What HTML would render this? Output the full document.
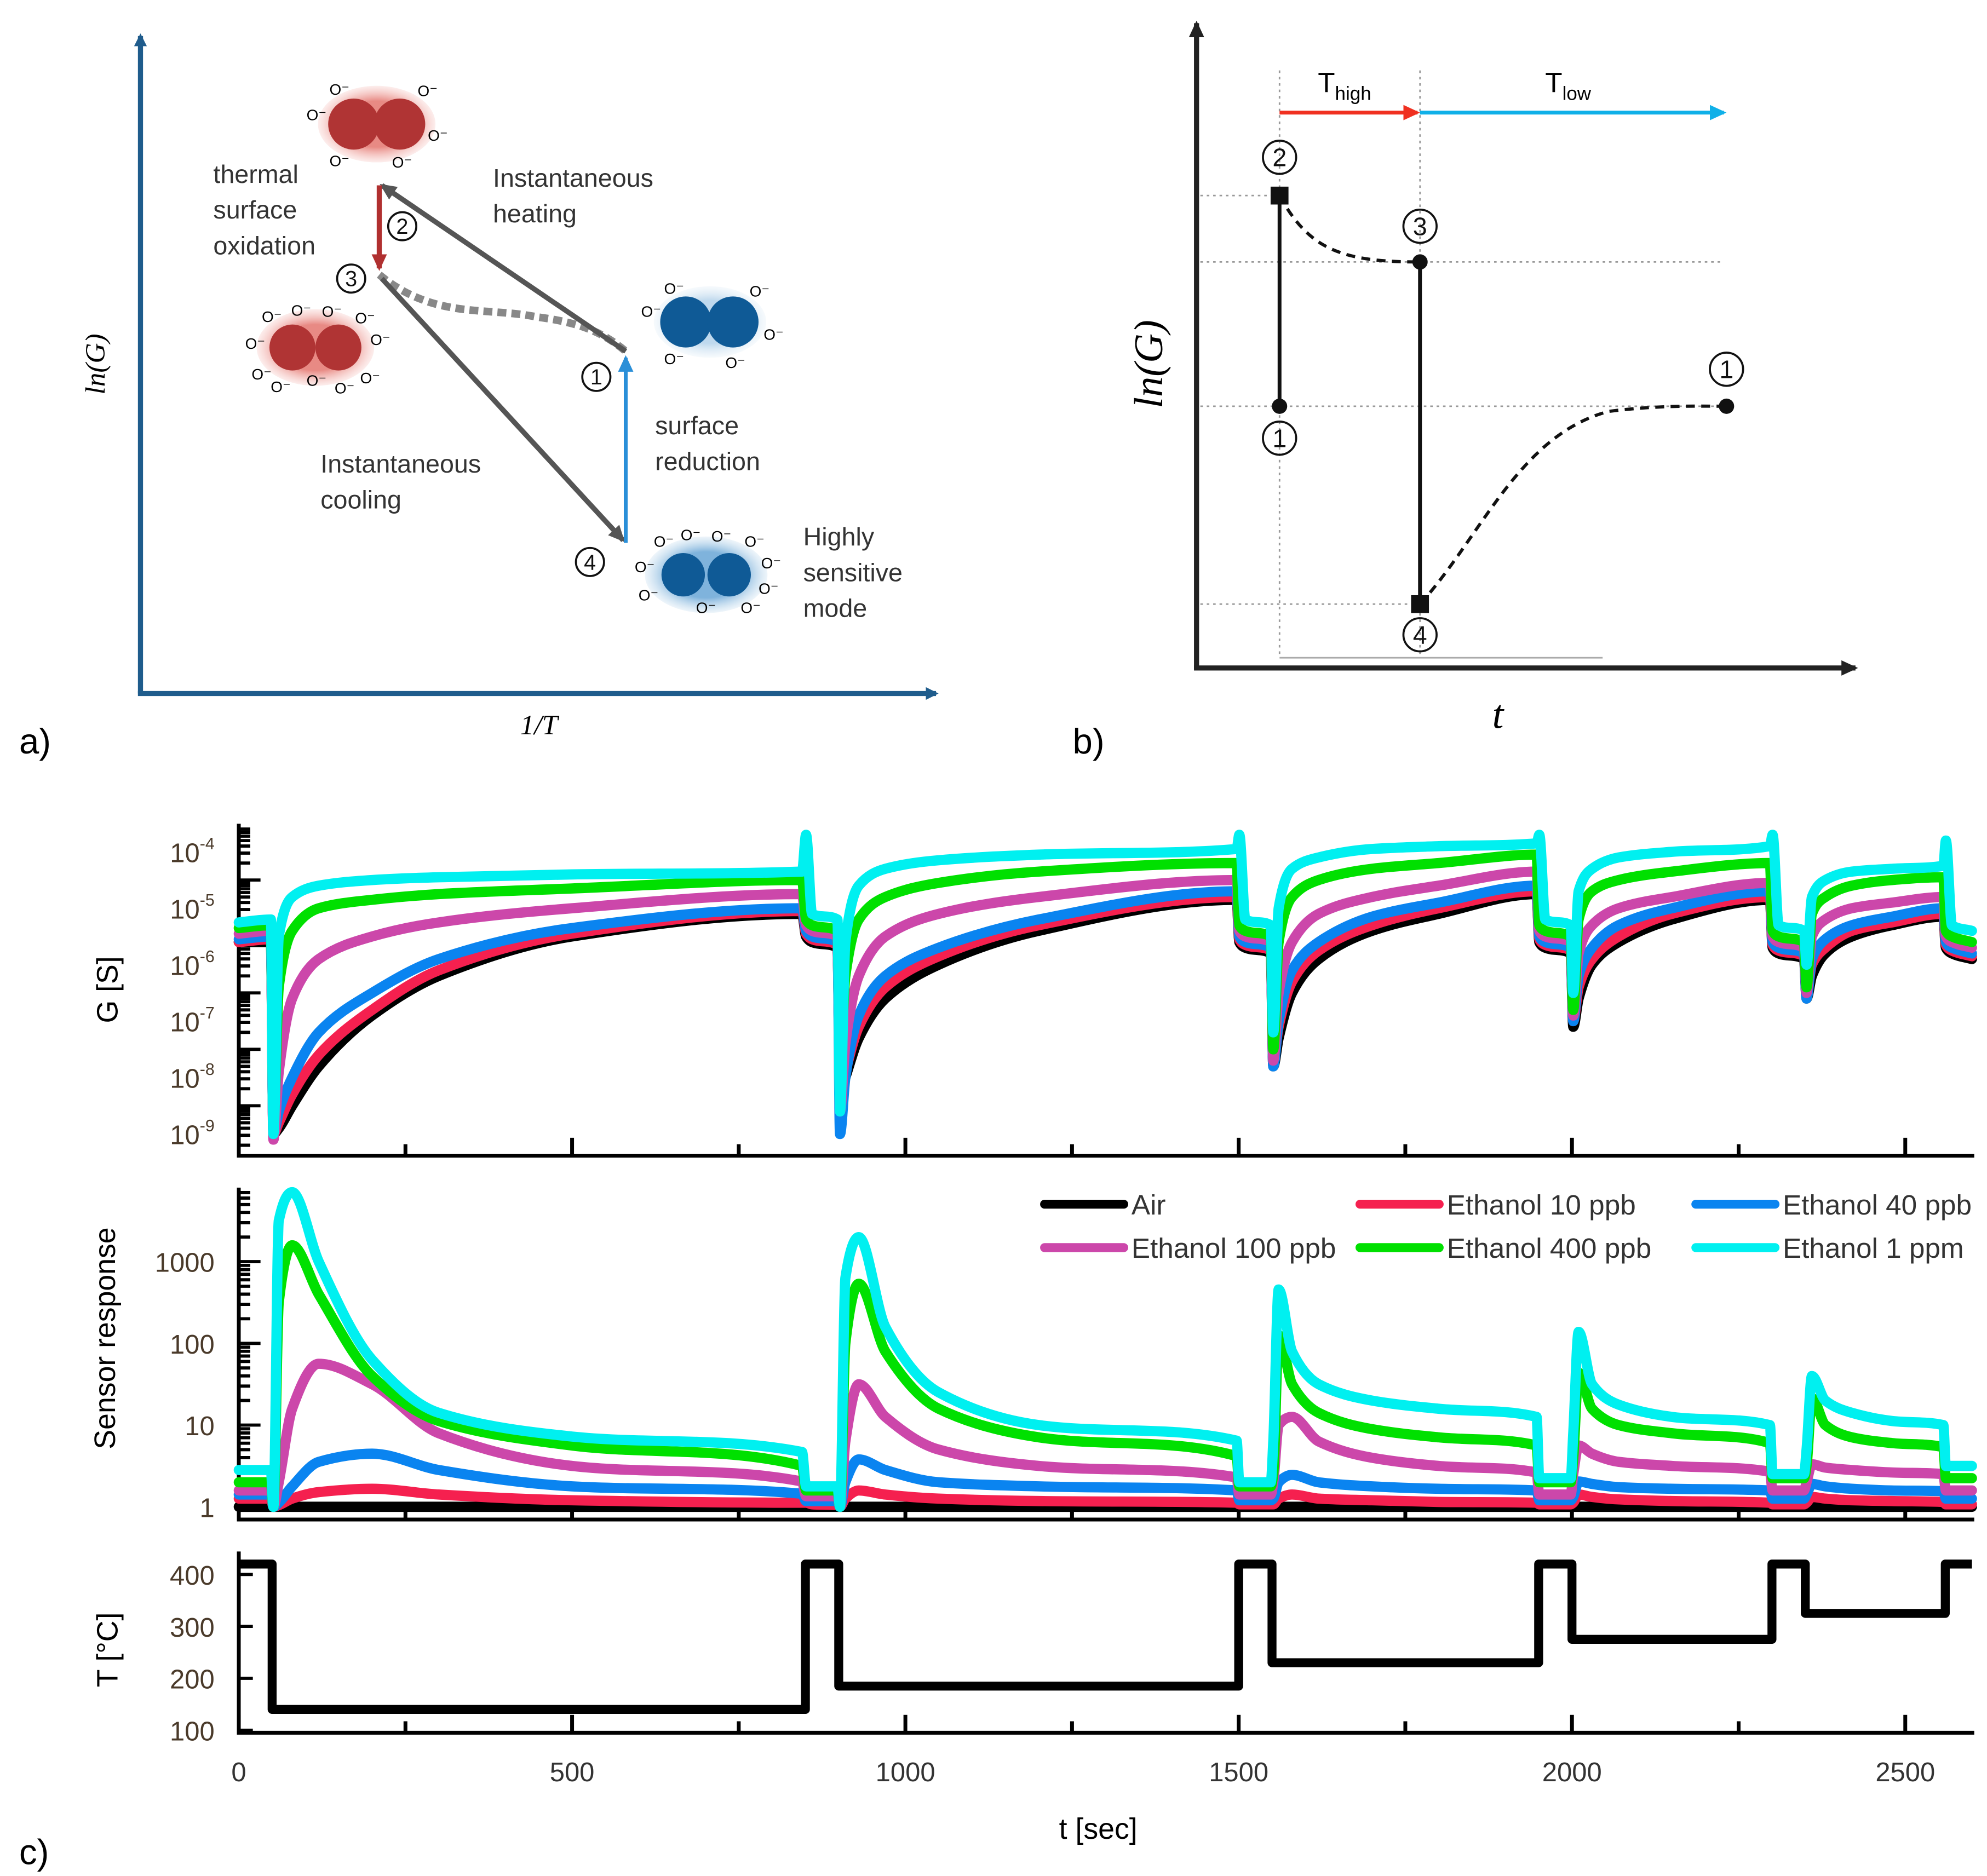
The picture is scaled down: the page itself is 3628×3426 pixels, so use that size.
<!DOCTYPE html>
<html><head><meta charset="utf-8"><style>
html,body{margin:0;padding:0;background:#fff}
svg{display:block}
text{font-family:"Liberation Sans",sans-serif}
.serif{font-family:"Liberation Serif",serif;font-style:italic}
</style></head><body>
<svg id="fig" xmlns="http://www.w3.org/2000/svg" width="3628" height="3426" viewBox="0 0 1556 1469">
<defs>
<marker id="ahBlue" markerWidth="10" markerHeight="10" refX="8" refY="5" orient="auto" markerUnits="userSpaceOnUse"><path d="M0,0 L10,5 L0,10 z" fill="#1f5c8c"/></marker>
<marker id="ahGray" markerWidth="14" markerHeight="14" refX="11" refY="7" orient="auto" markerUnits="userSpaceOnUse"><path d="M0,1 L13,7 L0,13 z" fill="#555"/></marker>
<marker id="ahRed" markerWidth="14" markerHeight="14" refX="11" refY="7" orient="auto" markerUnits="userSpaceOnUse"><path d="M0,1 L13,7 L0,13 z" fill="#b03030"/></marker>
<marker id="ahLB" markerWidth="14" markerHeight="14" refX="11" refY="7" orient="auto" markerUnits="userSpaceOnUse"><path d="M0,1 L13,7 L0,13 z" fill="#2a8fd8"/></marker>
<marker id="ahR2" markerWidth="14" markerHeight="14" refX="11" refY="7" orient="auto" markerUnits="userSpaceOnUse"><path d="M0,1 L13,7 L0,13 z" fill="#f03020"/></marker>
<marker id="ahC2" markerWidth="14" markerHeight="14" refX="11" refY="7" orient="auto" markerUnits="userSpaceOnUse"><path d="M0,1 L13,7 L0,13 z" fill="#10b0e8"/></marker>
<marker id="ahK" markerWidth="14" markerHeight="14" refX="11" refY="7" orient="auto" markerUnits="userSpaceOnUse"><path d="M0,1 L13,7 L0,13 z" fill="#222"/></marker>
<radialGradient id="gRed"><stop offset="0.6" stop-color="#e88a84"/><stop offset="1" stop-color="#f6c4c0" stop-opacity="0.3"/></radialGradient>
<radialGradient id="gBlue"><stop offset="0.6" stop-color="#7fb3dc"/><stop offset="1" stop-color="#c5ddef" stop-opacity="0.3"/></radialGradient>
</defs>

<!-- PANEL A -->
<g>
<line x1="110" y1="543" x2="110" y2="28" stroke="#1f5c8c" stroke-width="4" marker-end="url(#ahBlue)"/>
<line x1="108" y1="543" x2="733" y2="543" stroke="#1f5c8c" stroke-width="4" marker-end="url(#ahBlue)"/>
<text x="82" y="285" class="serif" font-size="22" transform="rotate(-90 82 285)" text-anchor="middle">ln(G)</text>
<text x="422" y="575" class="serif" font-size="22" text-anchor="middle">1/T</text>
<text x="15" y="590" font-size="28">a)</text>

<g>
<ellipse cx="295" cy="97" rx="46" ry="30" fill="url(#gRed)"/>
<circle cx="277" cy="97" r="20" fill="#b03434"/><circle cx="313" cy="97" r="20" fill="#b03434"/>
<text x="258" y="74" font-size="12">O⁻</text><text x="327" y="75" font-size="12">O⁻</text><text x="240" y="94" font-size="12">O⁻</text><text x="335" y="110" font-size="12">O⁻</text><text x="258" y="130" font-size="12">O⁻</text><text x="307" y="131" font-size="12">O⁻</text>
</g>
<g>
<ellipse cx="247" cy="272" rx="46" ry="30" fill="url(#gRed)"/>
<circle cx="229" cy="272" r="18" fill="#b03434"/><circle cx="265" cy="272" r="18" fill="#b03434"/>
<text x="205" y="252" font-size="12">O⁻</text><text x="228" y="247" font-size="12">O⁻</text><text x="252" y="248" font-size="12">O⁻</text><text x="278" y="253" font-size="12">O⁻</text><text x="192" y="273" font-size="12">O⁻</text><text x="290" y="270" font-size="12">O⁻</text><text x="197" y="297" font-size="12">O⁻</text><text x="212" y="307" font-size="12">O⁻</text><text x="240" y="302" font-size="12">O⁻</text><text x="262" y="308" font-size="12">O⁻</text><text x="282" y="300" font-size="12">O⁻</text>
</g>
<g>
<ellipse cx="556" cy="252" rx="44" ry="28" fill="url(#gBlue)" opacity="0.5"/>
<circle cx="537" cy="252" r="20" fill="#0f5a96"/><circle cx="574" cy="252" r="20" fill="#0f5a96"/>
<text x="520" y="230" font-size="12">O⁻</text><text x="587" y="232" font-size="12">O⁻</text><text x="502" y="248" font-size="12">O⁻</text><text x="598" y="266" font-size="12">O⁻</text><text x="520" y="285" font-size="12">O⁻</text><text x="568" y="288" font-size="12">O⁻</text>
</g>
<g>
<ellipse cx="553" cy="450" rx="48" ry="30" fill="url(#gBlue)"/>
<circle cx="535" cy="450" r="17" fill="#0f5a96"/><circle cx="571" cy="450" r="17" fill="#0f5a96"/>
<text x="512" y="428" font-size="12">O⁻</text><text x="533" y="423" font-size="12">O⁻</text><text x="557" y="424" font-size="12">O⁻</text><text x="583" y="428" font-size="12">O⁻</text><text x="497" y="448" font-size="12">O⁻</text><text x="596" y="445" font-size="12">O⁻</text><text x="500" y="470" font-size="12">O⁻</text><text x="545" y="480" font-size="12">O⁻</text><text x="580" y="480" font-size="12">O⁻</text><text x="594" y="465" font-size="12">O⁻</text>
</g>

<path d="M297,215 C340,250 380,240 420,248 C450,252 470,258 490,275" fill="none" stroke="#888" stroke-width="6" stroke-dasharray="7,4"/>
<line x1="490" y1="275" x2="299" y2="145" stroke="#555" stroke-width="4" marker-end="url(#ahGray)"/>
<line x1="297" y1="145" x2="297" y2="210" stroke="#b03030" stroke-width="4" marker-end="url(#ahRed)"/>
<line x1="299" y1="218" x2="488" y2="423" stroke="#555" stroke-width="4" marker-end="url(#ahGray)"/>
<line x1="490" y1="425" x2="490" y2="280" stroke="#2a8fd8" stroke-width="3" marker-end="url(#ahLB)"/>

<g font-size="20" fill="#333">
<text x="167" y="143">thermal</text><text x="167" y="171">surface</text><text x="167" y="199">oxidation</text>
<text x="386" y="146">Instantaneous</text><text x="386" y="174">heating</text>
<text x="513" y="340">surface</text><text x="513" y="368">reduction</text>
<text x="251" y="370">Instantaneous</text><text x="251" y="398">cooling</text>
<text x="629" y="427">Highly</text><text x="629" y="455">sensitive</text><text x="629" y="483">mode</text>
</g>
<g fill="none" stroke="#111" stroke-width="1.6">
<circle cx="315" cy="177" r="11"/><circle cx="275" cy="218" r="11"/><circle cx="467" cy="295" r="11"/><circle cx="462" cy="440" r="11"/>
</g>
<g font-size="17" text-anchor="middle" fill="#111">
<text x="315" y="183">2</text><text x="275" y="224">3</text><text x="467" y="301">1</text><text x="462" y="446">4</text>
</g>
</g>

<!-- PANEL B -->
<g>
<line x1="937" y1="524" x2="937" y2="18" stroke="#222" stroke-width="4" marker-end="url(#ahK)"/>
<line x1="935" y1="523" x2="1453" y2="523" stroke="#222" stroke-width="4" marker-end="url(#ahK)"/>
<text x="910" y="285" class="serif" font-size="32" transform="rotate(-90 910 285)" text-anchor="middle">ln(G)</text>
<text x="1173" y="570" class="serif" font-size="32" text-anchor="middle">t</text>
<text x="840" y="590" font-size="28">b)</text>
<g stroke="#999" stroke-width="1.2" stroke-dasharray="2,3" fill="none">
<line x1="1002" y1="55" x2="1002" y2="515"/><line x1="1112" y1="55" x2="1112" y2="515"/>
<line x1="940" y1="153" x2="1002" y2="153"/><line x1="940" y1="205" x2="1350" y2="205"/>
<line x1="940" y1="318" x2="1350" y2="318"/><line x1="940" y1="473" x2="1112" y2="473"/>
</g>
<line x1="1002" y1="515" x2="1255" y2="515" stroke="#aaa" stroke-width="1.2"/>
<line x1="1002" y1="88" x2="1110" y2="88" stroke="#f03020" stroke-width="3" marker-end="url(#ahR2)"/>
<line x1="1112" y1="88" x2="1350" y2="88" stroke="#10b0e8" stroke-width="3" marker-end="url(#ahC2)"/>
<text x="1032" y="72" font-size="22">T<tspan font-size="15" dy="6">high</tspan></text>
<text x="1210" y="72" font-size="22">T<tspan font-size="15" dy="6">low</tspan></text>
<line x1="1002" y1="153" x2="1002" y2="318" stroke="#111" stroke-width="3"/>
<line x1="1112" y1="205" x2="1112" y2="473" stroke="#111" stroke-width="3"/>
<path d="M1002,153 C1025,195 1050,205 1112,205" fill="none" stroke="#111" stroke-width="2.5" stroke-dasharray="7,5"/>
<path d="M1112,473 C1160,420 1190,340 1260,322 C1300,317 1330,318 1352,318" fill="none" stroke="#111" stroke-width="2.5" stroke-dasharray="7,5"/>
<rect x="995" y="146" width="14" height="14" fill="#111"/><rect x="1105" y="466" width="14" height="14" fill="#111"/>
<circle cx="1002" cy="318" r="6" fill="#111"/><circle cx="1112" cy="205" r="6" fill="#111"/><circle cx="1352" cy="318" r="6" fill="#111"/>
<g fill="none" stroke="#111" stroke-width="1.6">
<circle cx="1002" cy="123" r="13"/><circle cx="1002" cy="343" r="13"/><circle cx="1112" cy="177" r="13"/><circle cx="1112" cy="497" r="13"/><circle cx="1352" cy="289" r="13"/>
</g>
<g font-size="20" text-anchor="middle" fill="#111">
<text x="1002" y="130">2</text><text x="1002" y="350">1</text><text x="1112" y="184">3</text><text x="1112" y="504">4</text><text x="1352" y="296">1</text>
</g>
</g>

<!-- PANEL C -->
<g id="panelC">
<text x="15" y="1460" font-size="28">c)</text>
<text x="860" y="1440" font-size="23" text-anchor="middle">t [sec]</text>
<text x="92" y="775" font-size="23" text-anchor="middle" transform="rotate(-90 92 775)">G [S]</text>
<text x="90" y="1048" font-size="23" text-anchor="middle" transform="rotate(-90 90 1048)">Sensor response</text>
<text x="92" y="1292" font-size="23" text-anchor="middle" transform="rotate(-90 92 1292)">T [°C]</text>
<g id="legend"></g>
</g>
</svg>
<script>
const NS='http://www.w3.org/2000/svg';
const svg=document.getElementById('fig');
const panel=document.getElementById('panelC');

const times=[0,48, 52,60,80,120,200,300,500,845, 851,860,898, 902,910,930,970,1050,1200,1497, 1501,1510,1548, 1552,1560,1580,1620,1700,1800,1947, 1951,1960,1998, 2002,2010,2030,2070,2150,2297, 2301,2310,2348, 2352,2360,2380,2420,2480,2557, 2561,2570,2600];
const seriesNames=['Air','Ethanol 10 ppb','Ethanol 40 ppb','Ethanol 100 ppb','Ethanol 400 ppb','Ethanol 1 ppm'];
const seriesColors=['#000000','#f5204f','#0a84f0','#cc47aa','#00e000','#00f0f0'];
// log10 G [S]
const gAir=[-5.6,-5.6, -9.0,-8.9,-8.5,-7.8,-6.9,-6.2,-5.5,-5.1, -5.5,-5.6,-5.7, -8.3,-8.0,-7.3,-6.6,-6.0,-5.4,-4.85, -5.6,-5.7,-5.8, -7.8,-7.3,-6.5,-5.9,-5.4,-5.1,-4.75, -5.6,-5.7,-5.8, -7.1,-6.6,-6.0,-5.6,-5.2,-4.85, -5.7,-5.8,-5.9, -6.6,-6.2,-5.8,-5.5,-5.3,-5.15, -5.7,-5.8,-5.9];
const gE10=[-5.6,-5.55, -9.0,-8.8,-8.3,-7.6,-6.8,-6.1,-5.45,-5.05, -5.45,-5.55,-5.65, -8.3,-7.9,-7.1,-6.4,-5.85,-5.3,-4.8, -5.55,-5.65,-5.75, -7.7,-7.1,-6.3,-5.75,-5.3,-5.0,-4.7, -5.55,-5.65,-5.75, -7.0,-6.4,-5.9,-5.5,-5.1,-4.8, -5.65,-5.75,-5.85, -6.5,-6.0,-5.7,-5.4,-5.25,-5.1, -5.65,-5.75,-5.85];
const gE40=[-5.55,-5.5, -9.0,-8.6,-8.0,-7.2,-6.5,-5.9,-5.35,-5.0, -5.4,-5.5,-5.6, -9.0,-8.0,-6.9,-6.2,-5.7,-5.2,-4.7, -5.5,-5.6,-5.7, -7.8,-7.0,-6.1,-5.6,-5.15,-4.9,-4.6, -5.5,-5.6,-5.7, -7.0,-6.2,-5.7,-5.3,-5.0,-4.7, -5.6,-5.7,-5.8, -6.6,-5.9,-5.55,-5.3,-5.15,-5.0, -5.6,-5.7,-5.8];
const gE100=[-5.45,-5.4, -9.1,-7.9,-6.6,-5.9,-5.5,-5.25,-5.0,-4.75, -5.3,-5.4,-5.5, -8.6,-7.4,-6.2,-5.5,-5.1,-4.8,-4.5, -5.4,-5.5,-5.6, -7.7,-6.5,-5.6,-5.1,-4.8,-4.6,-4.35, -5.4,-5.5,-5.6, -6.9,-5.8,-5.3,-5.0,-4.8,-4.55, -5.5,-5.6,-5.7, -6.5,-5.5,-5.2,-5.0,-4.9,-4.8, -5.5,-5.6,-5.7];
const gE400=[-5.35,-5.3, -8.8,-6.4,-5.4,-5.0,-4.85,-4.75,-4.65,-4.5, -5.2,-5.3,-5.4, -7.7,-6.2,-5.2,-4.8,-4.55,-4.35,-4.2, -5.3,-5.4,-5.5, -7.5,-5.6,-4.8,-4.5,-4.3,-4.2,-4.05, -5.3,-5.4,-5.5, -6.8,-5.2,-4.7,-4.5,-4.35,-4.2, -5.4,-5.5,-5.6, -6.4,-5.1,-4.8,-4.6,-4.5,-4.45, -5.4,-5.5,-5.6];
const gE1000=[-5.25,-5.2, -9.0,-5.5,-4.8,-4.6,-4.5,-4.45,-4.4,-4.35, -3.7,-5.1,-5.2, -8.6,-5.6,-4.6,-4.3,-4.15,-4.05,-3.95, -3.7,-5.2,-5.3, -7.2,-5.0,-4.3,-4.1,-3.95,-3.9,-3.85, -3.7,-5.2,-5.3, -6.5,-4.7,-4.3,-4.1,-4.0,-3.9, -3.7,-5.3,-5.4, -6.0,-4.8,-4.5,-4.35,-4.3,-4.25, -3.8,-5.3,-5.4];
// log10 sensor response
const rAir=[0,0, 0,0,0,0,0,0,0,0, 0,0,0, 0,0,0,0,0,0,0, 0,0,0, 0,0,0,0,0,0,0, 0,0,0, 0,0,0,0,0,0, 0,0,0, 0,0,0,0,0,0, 0,0,0];
const rE10=[0.1,0.1, 0,0.02,0.1,0.18,0.22,0.15,0.08,0.05, 0.05,0.03,0.02, 0,0.1,0.2,0.15,0.1,0.07,0.05, 0.03,0.03,0.03, 0.03,0.1,0.15,0.1,0.08,0.06,0.05, 0.03,0.03,0.03, 0.05,0.15,0.12,0.09,0.07,0.05, 0.03,0.03,0.03, 0.05,0.12,0.1,0.08,0.07,0.06, 0.03,0.03,0.03];
const rE40=[0.15,0.15, 0,0.05,0.25,0.55,0.65,0.45,0.25,0.16, 0.07,0.07,0.07, 0,0.3,0.58,0.45,0.3,0.25,0.2, 0.08,0.08,0.08, 0.1,0.3,0.39,0.3,0.25,0.22,0.2, 0.08,0.08,0.08, 0.12,0.31,0.28,0.24,0.22,0.2, 0.1,0.1,0.1, 0.15,0.28,0.25,0.22,0.2,0.19, 0.1,0.1,0.1];
const rE100=[0.2,0.2, 0,0.3,1.2,1.75,1.5,0.9,0.5,0.31, 0.13,0.13,0.13, 0,0.8,1.5,1.1,0.7,0.5,0.36, 0.15,0.15,0.15, 0.3,1.0,1.1,0.8,0.6,0.5,0.42, 0.15,0.15,0.15, 0.4,0.75,0.65,0.55,0.5,0.43, 0.2,0.2,0.2, 0.3,0.52,0.48,0.45,0.42,0.4, 0.2,0.2,0.2];
const rE400=[0.3,0.3, 0,2.5,3.2,2.6,1.6,1.05,0.75,0.5, 0.2,0.2,0.2, 0,2.0,2.73,1.9,1.2,0.85,0.62, 0.25,0.25,0.25, 0.4,2.1,1.5,1.15,0.95,0.85,0.75, 0.3,0.3,0.3, 0.6,1.64,1.2,1.0,0.9,0.78, 0.35,0.35,0.35, 0.5,1.33,1.0,0.85,0.78,0.73, 0.35,0.35,0.35];
const rE1000=[0.45,0.45, 0,3.5,3.85,3.0,1.8,1.15,0.86,0.67, 0.25,0.25,0.25, 0,2.8,3.3,2.2,1.4,1.0,0.81, 0.3,0.3,0.3, 0.8,2.66,1.9,1.5,1.3,1.2,1.1, 0.35,0.35,0.35, 0.9,2.14,1.5,1.25,1.1,1.0, 0.4,0.4,0.4, 0.7,1.6,1.3,1.15,1.05,1.0, 0.5,0.5,0.5];
// temperature steps
const tempTimes=[0,50,850,900,1500,1550,1950,2000,2300,2350,2560,2600];
const tempVals=[420,140,420,185,420,230,420,275,420,325,420,420];
const xTickVals=[0,500,1000,1500,2000,2500];
const gTickExp=[-4,-5,-6,-7,-8,-9];
const rTickVals=[1,10,100,1000];
const tTickVals=[100,200,300,400];

// axis functions
const xS=t=>187+t*0.522;
const gY=e=>667+(-4-e)*44.2;
const rY=e=>1180-e*64;
const tY=v=>1355-(v-100)*0.4067;

function el(tag,attrs,parent){const e=document.createElementNS(NS,tag);for(const k in attrs)e.setAttribute(k,attrs[k]);(parent||panel).appendChild(e);return e;}

// axes frames
const frames=[[645,905],[930,1190],[1215,1357]];
frames.forEach((f,i)=>{
  const a=el('path',{d:`M187,${f[0]} L187,${f[1]} L1546,${f[1]}`,fill:'none',stroke:'#000','stroke-width':3});
  
  
  for(let t=0;t<=2600;t+=250){
    const tk=el('line',{x1:xS(t),x2:xS(t),y1:f[1],y2:f[1]-(t%500===0?14:9),stroke:'#000','stroke-width':3});
    
    
  }
});
xTickVals.forEach(v=>{
  const t=el('text',{x:xS(v),y:1395,'font-size':21,'text-anchor':'middle',fill:'#333'});
  t.textContent=v;
  
  
});
for(let d=-9.5;d<=-3.5;d+=1){
  for(let m=1;m<10;m++){
    const e=d+Math.log10(m);
    if(e<-9.45||e>-3.55)continue;
    const y=gY(e);
    const mt=el('line',{x1:187,x2:187+(m===1?17:9),y1:y,y2:y,stroke:'#000','stroke-width':2.5});
    
    
  }
}
gTickExp.forEach(e=>{
  const t=el('text',{x:168,y:gY(e)+8,'font-size':21,'text-anchor':'end',fill:'#4a3a2a'});
  t.innerHTML='10<tspan dy="-10" font-size="13">'+e+'</tspan>';
  
  
});
for(let d=0;d<4;d++){
  for(let m=1;m<10;m++){
    const e=d+Math.log10(m);
    if(rY(e)<932)continue;
    const y=rY(e);
    const mt=el('line',{x1:187,x2:187+(m===1?17:9),y1:y,y2:y,stroke:'#000','stroke-width':2.5});
    
    
  }
}
rTickVals.forEach(v=>{
  const t=el('text',{x:168,y:rY(Math.log10(v))+8,'font-size':21,'text-anchor':'end',fill:'#4a3a2a'});
  t.textContent=v;
  
  
});
tTickVals.forEach(v=>{
  const k=el('line',{x1:187,x2:198,y1:tY(v),y2:tY(v),stroke:'#000','stroke-width':2.5});
  
  
  const t=el('text',{x:168,y:tY(v)+8,'font-size':21,'text-anchor':'end',fill:'#4a3a2a'});
  t.textContent=v;
  
  
});

// monotone cubic path (Fritsch-Carlson)
function monotonePath(xs,ys){
  const n=xs.length,dx=[],m=[],s=[];
  for(let i=0;i<n-1;i++){dx[i]=xs[i+1]-xs[i];s[i]=(ys[i+1]-ys[i])/dx[i];}
  m[0]=s[0];m[n-1]=s[n-2];
  for(let i=1;i<n-1;i++){m[i]=(s[i-1]*s[i]<=0)?0:3*(dx[i-1]+dx[i])/((2*dx[i]+dx[i-1])/s[i-1]+(dx[i]+2*dx[i-1])/s[i]);}
  let d='M'+xs[0].toFixed(1)+','+ys[0].toFixed(1);
  for(let i=0;i<n-1;i++){
    const h=dx[i]/3;
    d+=` C${(xs[i]+h).toFixed(1)},${(ys[i]+m[i]*h).toFixed(1)} ${(xs[i+1]-h).toFixed(1)},${(ys[i+1]-m[i+1]*h).toFixed(1)} ${xs[i+1].toFixed(1)},${ys[i+1].toFixed(1)}`;
  }
  return d;
}
function line(vals,yf,color,name){
  const xs=times.map(xS),ys=vals.map(yf);
  const p=el('path',{d:monotonePath(xs,ys),fill:'none',stroke:color,'stroke-width':8,'stroke-linejoin':'round','stroke-linecap':'round'});
  
  
}
const gSeries=[gAir,gE10,gE40,gE100,gE400,gE1000];
const rSeries=[rAir,rE10,rE40,rE100,rE400,rE1000];
gSeries.forEach((s,i)=>line(s,gY,seriesColors[i],'g-line-'+i));
rSeries.forEach((s,i)=>line(s,rY,seriesColors[i],'response-line-'+i));

let td='M'+xS(tempTimes[0])+','+tY(tempVals[0]);
for(let i=1;i<tempTimes.length;i++){td+=' L'+xS(tempTimes[i])+','+tY(tempVals[i-1])+' L'+xS(tempTimes[i])+','+tY(tempVals[i]);}
const tp=el('path',{d:td,fill:'none',stroke:'#000','stroke-width':7,'stroke-linejoin':'round'});



const lg=document.getElementById('legend');
const legX=[818,1065,1328],legY=[943,977];
seriesNames.forEach((n,i)=>{
  const x=legX[i%3],y=legY[Math.floor(i/3)];
  const g=el('g',{},lg);
  
  
  el('line',{x1:x,x2:x+62,y1:y,y2:y,stroke:seriesColors[i],'stroke-width':7,'stroke-linecap':'round'},g);
  const t=el('text',{x:x+68,y:y+8,'font-size':22,fill:'#333'},g);
  t.textContent=n;
});
</script>
</body></html>
